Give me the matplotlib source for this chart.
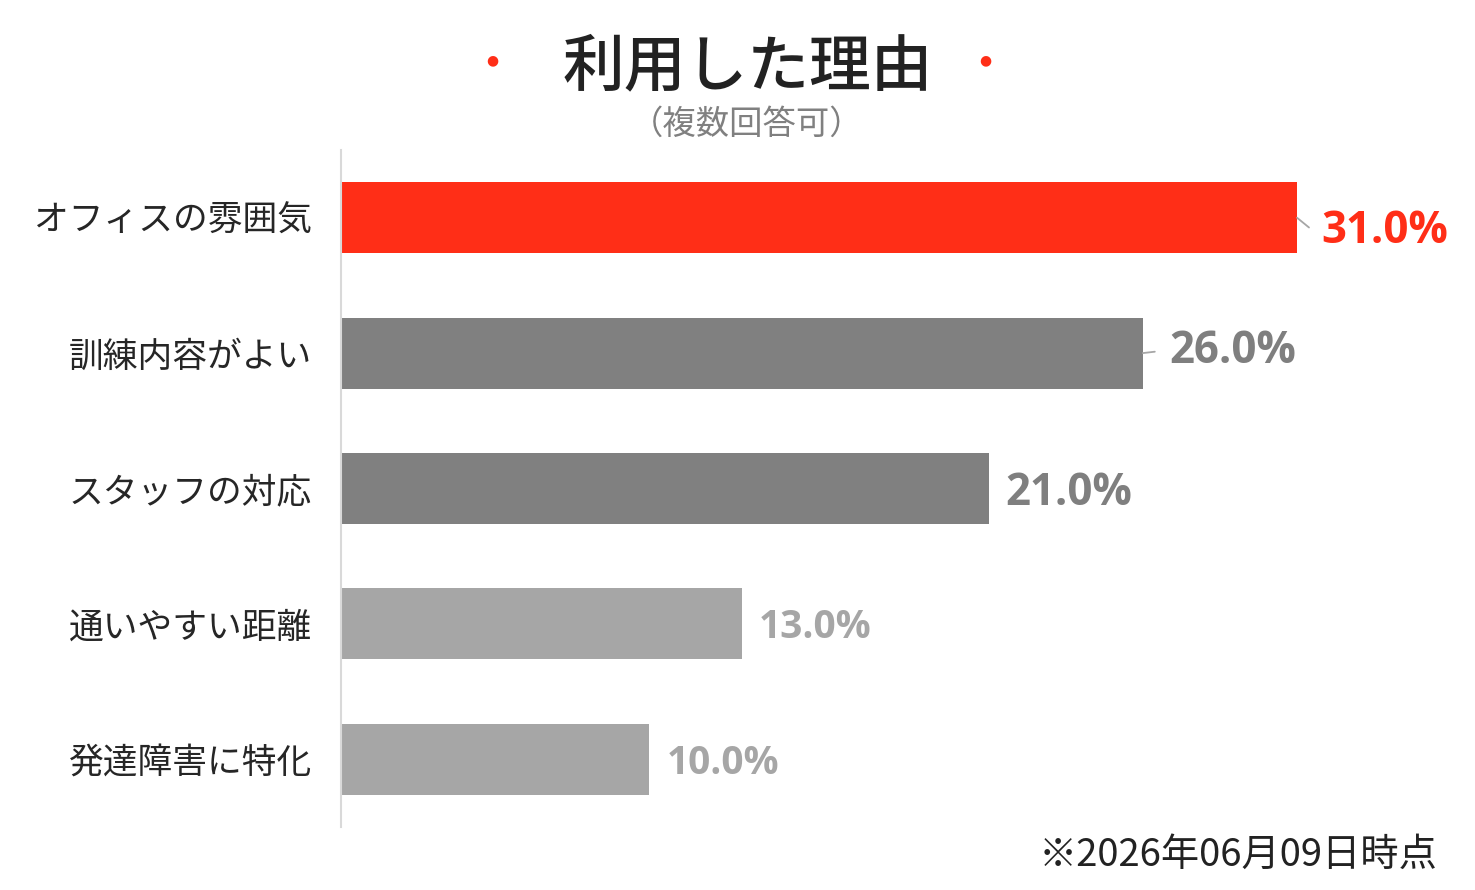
import matplotlib
matplotlib.use("Agg")
import matplotlib.pyplot as plt

# data
categories = ["オフィスの雰囲気", "訓練内容がよい", "スタッフの対応", "通いやすい距離", "発達障害に特化"]
values = [31.0, 26.0, 21.0, 13.0, 10.0]
bar_colors = ["#FF2E17", "#808080", "#808080", "#A6A6A6", "#A6A6A6"]
label_colors = ["#FF2E17", "#7F7F7F", "#7F7F7F", "#A6A6A6", "#A6A6A6"]

title = "利用した理由"
subtitle = "（複数回答可）"
footnote = "※2026年06月09日時点"

plt.rcParams["font.family"] = ["Noto Sans CJK JP", "DejaVu Sans"]

W, H = 1475, 890
fig = plt.figure(figsize=(W / 100, H / 100), dpi=100)
ax_left, ax_top, ax_bottom = 341, 150, 827
ax = fig.add_axes([ax_left / W, 1 - ax_bottom / H, (W - ax_left) / W, (ax_bottom - ax_top) / H])

px_per_pct = (1298 - 342) / 31.0
ax.set_xlim(0, (W - ax_left) / px_per_pct)
ax.set_ylim(len(values) - 0.5, -0.5)

ypos = list(range(len(values)))
ax.barh(ypos, values, height=0.525, color=bar_colors, zorder=2)

# value labels (offsets in px)
x_off = [24, 27, 17, 17, 17]
y_off = [-14, 2, -5, -4, -4]
lbl_size = [31.5, 31.5, 31.5, 28, 28]
for i, (v, c) in enumerate(zip(values, label_colors)):
    ax.annotate(f"{v:.1f}%", xy=(v, i), xytext=(x_off[i] * 0.72, y_off[i] * 0.72),
                textcoords="offset points", va="center", ha="left",
                fontsize=lbl_size[i], fontweight="bold", color=c, family=["Open Sans", "DejaVu Sans"])
    if x_off[i] > 20:
        ax.annotate("", xy=(v, i), xytext=(v + 12 / px_per_pct, i - y_off[i] / 135.4 * 0.7),
                    arrowprops=dict(arrowstyle="-", color="#A6A6A6", lw=1.3, shrinkA=0, shrinkB=0))

ax.set_yticks(ypos)
ax.set_yticklabels(categories, fontsize=25, color="#262626")
ax.tick_params(axis="y", length=0, pad=21)
ax.set_xticks([])
for s in ["top", "right", "bottom"]:
    ax.spines[s].set_visible(False)
ax.spines["left"].set_color("#D9D9D9")
ax.spines["left"].set_linewidth(1.5)
ax.spines["left"].set_zorder(3)

fig.text(748 / W, 1 - 68 / H, title, ha="center", va="center", fontsize=44.5,
         fontweight="medium", color="#222222")
fig.text(747 / W, 1 - 124 / H, subtitle, ha="center", va="center", fontsize=24, color="#808080")
for dx in (492, 985):
    fig.text(dx / W, 1 - 60 / H, "●", ha="center", va="center", fontsize=10,
             color="#FF2E17", family=["DejaVu Sans"])
fig.text(1438 / W, 1 - 855 / H, footnote, ha="right", va="center", fontsize=27.5, color="#222222")

fig.savefig("out.png", dpi=100)
